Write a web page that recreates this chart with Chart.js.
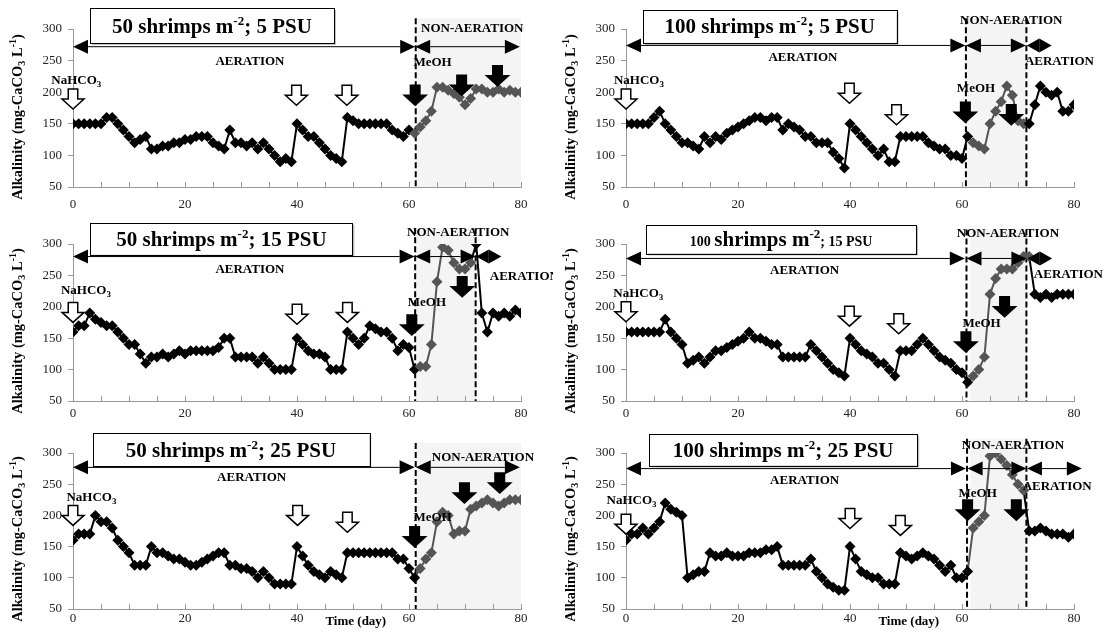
<!DOCTYPE html>
<html>
<head>
<meta charset="utf-8">
<script src="https://cdn.jsdelivr.net/npm/chart.js@4.4.0/dist/chart.umd.min.js"></script>
<style>
  body { margin: 0; background: #fff; width: 1106px; height: 634px; overflow: hidden; position: relative; }
  .panel { position: absolute; width: 553px; height: 210px; }
</style>
</head>
<body>
<div class="panel" style="left:0;top:0"><canvas id="c1" width="553" height="210"></canvas></div>
<div class="panel" style="left:553px;top:0"><canvas id="c2" width="553" height="210"></canvas></div>
<div class="panel" style="left:0;top:215px"><canvas id="c3" width="553" height="210"></canvas></div>
<div class="panel" style="left:553px;top:215px"><canvas id="c4" width="553" height="210"></canvas></div>
<div class="panel" style="left:0;top:424px"><canvas id="c5" width="553" height="210"></canvas></div>
<div class="panel" style="left:553px;top:424px"><canvas id="c6" width="553" height="210"></canvas></div>
<script>
'use strict'

//Data ---------------------------------------------------------
const days = Array.from({ length: 81 }, (_, i) => i);

const alk50psu5 = [
  150, 150, 150, 150, 150, 150, 160, 160, 150, 140,
  130, 120, 125, 130, 110, 110, 115, 115, 120, 120,
  125, 125, 130, 130, 130, 120, 115, 110, 140, 120,
  120, 115, 120, 110, 120, 110, 100, 90, 95, 90,
  150, 140, 130, 130, 120, 110, 100, 95, 90, 160,
  155, 150, 150, 150, 150, 150, 150, 140, 135, 130,
  140, 135, 145, 155, 170, 208, 208, 203, 198, 192,
  180, 190, 205, 205, 200, 200, 205, 200, 203, 200,
  200];

const alk100psu5 = [
  150, 150, 150, 150, 150, 160, 170, 150, 140, 130,
  120, 120, 115, 110, 130, 120, 130, 125, 135, 140,
  145, 150, 155, 160, 160, 155, 160, 160, 140, 150,
  145, 140, 130, 130, 120, 120, 120, 105, 95, 80,
  150, 140, 130, 120, 110, 100, 110, 90, 90, 130,
  130, 130, 130, 130, 120, 115, 110, 110, 100, 100,
  95, 130, 120, 115, 110, 150, 170, 185, 210, 195,
  155, 150, 150, 180, 210, 200, 195, 200, 170, 170,
  180];

const alk50psu15 = [
  160, 170, 170, 190, 180, 175, 170, 170, 160, 150,
  140, 140, 125, 110, 120, 120, 125, 120, 125, 130,
  125, 130, 130, 130, 130, 130, 135, 150, 150, 120,
  120, 120, 120, 110, 120, 110, 100, 100, 100, 100,
  150, 140, 130, 125, 125, 120, 100, 100, 100, 160,
  150, 140, 150, 170, 165, 160, 160, 150, 130, 140,
  135, 100, 105, 105, 140, 240, 295, 290, 270, 260,
  260, 270, 300, 190, 160, 190, 185, 190, 185, 195,
  190];

const alk100psu15 = [
  160, 160, 160, 160, 160, 160, 160, 180, 160, 150,
  140, 110, 115, 120, 110, 120, 130, 130, 135, 140,
  145, 150, 160, 150, 150, 145, 140, 140, 120, 120,
  120, 120, 120, 140, 130, 120, 110, 100, 95, 90,
  150, 140, 130, 125, 120, 110, 110, 100, 90, 130,
  130, 130, 140, 150, 140, 130, 120, 115, 110, 100,
  95, 80, 90, 100, 120, 220, 245, 260, 260, 260,
  270, 280, 280, 220, 215, 220, 215, 220, 220, 220,
  220];

const alk50psu25 = [
  160, 170, 170, 170, 200, 190, 190, 180, 160, 150,
  140, 120, 120, 120, 150, 140, 140, 135, 130, 130,
  125, 120, 120, 125, 130, 135, 140, 140, 120, 120,
  115, 115, 110, 100, 110, 100, 90, 90, 90, 90,
  150, 135, 120, 110, 105, 100, 110, 105, 100, 140,
  140, 140, 140, 140, 140, 140, 140, 140, 130, 130,
  115, 100, 115, 130, 140, 190, 205, 200, 170, 175,
  175, 210, 215, 220, 225, 220, 215, 220, 225, 225,
  225];

const alk100psu25 = [
  160, 170, 170, 180, 170, 180, 190, 220, 210, 205,
  200, 100, 105, 110, 110, 140, 135, 135, 140, 135,
  135, 135, 140, 140, 140, 145, 145, 150, 120, 120,
  120, 120, 120, 130, 110, 100, 90, 85, 80, 80,
  150, 130, 110, 105, 100, 100, 90, 90, 90, 140,
  135, 130, 135, 140, 135, 130, 120, 110, 120, 100,
  100, 110, 180, 190, 200, 295, 300, 290, 280, 265,
  250, 240, 175, 175, 180, 175, 170, 170, 170, 165,
  170];

const yTicks = [50, 100, 150, 200, 250, 300];
const xTicks = [0, 20, 40, 60, 80];

//Styles ---------------------------------------------------------
const FONT = "'Liberation Serif', 'Times New Roman', serif";
const GRAY = '#555555';
const AXIS = '#999999';
const BIG = 21;
const SUP = 13;

function font(size, bold) {
  return (bold ? 'bold ' : '') + size + 'px ' + FONT;
}

function titleParts(dens, psu, smallOuter) {
  const outer = smallOuter ? 14 : BIG;
  return [
    { text: dens + ' ', size: outer },
    { text: 'shrimps m', size: BIG },
    { text: '-2', size: SUP, shift: -8 },
    { text: '; ' + psu + ' PSU', size: outer }
  ];
}

//Panel layout ---------------------------------------------------------
const panels = [
  {
    id: 'c1', values: alk50psu5, grayFrom: 61, grayTo: 80, xH: 23, xPad: 2, yMid: 117,
    title: titleParts(50, 5), box: [3.0, 46.6, 333, 278],
    arrowY: 272, aer: [[0, 61.1]], non: [[61.1, 79.8]],
    texts: [['AERATION', 31.6, 248], ['NON-AERATION', 71.3, 300], ['MeOH', 64.2, 246]],
    nahco3: [0.6, 220],
    open: [[0, 205], [39.9, 211], [48.9, 211]],
    filled: [[61.1, 211], [69.4, 227], [75.8, 242]],
    shade: [61.2, 80, 317], dashed: [61.2]
  },
  {
    id: 'c2', values: alk100psu5, grayFrom: 62, grayTo: 71, xH: 23, xPad: 2, yMid: 117,
    title: titleParts(100, 5), box: [3.0, 48.3, 330, 278],
    arrowY: 274, aer: [[0, 60.6], [71.6, 76]], non: [[60.7, 71.4]],
    texts: [['AERATION', 31.6, 255], ['NON-AERATION', 68.8, 314], ['AERATION', 77.4, 248], ['MeOH', 62.5, 205]],
    nahco3: [2.3, 220],
    open: [[0, 205], [39.9, 214], [48.3, 180]],
    filled: [[60.6, 184], [68.8, 180]],
    shade: [60.9, 71.4, 317], dashed: [60.7, 71.5]
  },
  {
    id: 'c3', values: alk50psu15, grayFrom: 62, grayTo: 71, xH: 24, xPad: -3, yMid: 116,
    title: titleParts(50, 15), box: [3.1, 49.9, 334, 283],
    arrowY: 280, aer: [[0, 61], [72, 76.5]], non: [[61.1, 71.9]],
    texts: [['AERATION', 31.6, 259], ['NON-AERATION', 68.8, 318], ['AERATION', 80.6, 248], ['MeOH', 63.2, 207]],
    nahco3: [2.3, 227],
    open: [[0, 207], [40, 204], [49, 207]],
    filled: [[60.5, 187], [69.5, 248]],
    shade: [61.2, 72, 325], dashed: [61.1, 71.9]
  },
  {
    id: 'c4', values: alk100psu15, grayFrom: 62, grayTo: 72, xH: 24, xPad: -3, yMid: 116,
    title: titleParts(100, 15, true), box: [3.6, 51.8, 331, 285],
    arrowY: 277, aer: [[0, 60.5], [71.7, 76.1]], non: [[60.8, 71.5]],
    texts: [['AERATION', 31.9, 258], ['NON-AERATION', 68.2, 317], ['AERATION', 79, 252], ['MeOH', 63.5, 173]],
    nahco3: [2.2, 222],
    open: [[0, 208], [39.9, 201], [48.7, 189]],
    filled: [[60.7, 160], [67.6, 216]],
    shade: [61.5, 71.6, 323], dashed: [60.8, 71.5]
  },
  {
    id: 'c5', values: alk50psu25, grayFrom: 62, grayTo: 80, xH: 25, xPad: -6, yMid: 115, timeLabel: true,
    title: titleParts(50, 25), box: [3.5, 52.9, 332, 279],
    arrowY: 277, aer: [[0, 61]], non: [[61.2, 79.8]],
    texts: [['AERATION', 31.9, 260], ['NON-AERATION', 73.2, 293], ['MeOH', 64.2, 196]],
    nahco3: [3.3, 230],
    open: [[0, 216], [40.1, 216], [49, 205]],
    filled: [[61, 182], [69.9, 252], [76.2, 268]],
    shade: [61.4, 80, 316], dashed: [61.2]
  },
  {
    id: 'c6', values: alk100psu25, grayFrom: 62, grayTo: 71, xH: 25, xPad: -6, yMid: 115, timeLabel: true,
    title: titleParts(100, 25), box: [4.1, 52, 331, 280],
    arrowY: 275, aer: [[0, 60.7], [71.6, 81.4]], non: [[61, 71.5]],
    texts: [['AERATION', 31.9, 256], ['NON-AERATION', 69.1, 312], ['AERATION', 77, 246], ['MeOH', 62.8, 235]],
    nahco3: [1, 224.5],
    open: [[0, 202], [40, 211], [49, 200]],
    filled: [[61, 224.5], [69.7, 224.5]],
    shade: [61.5, 71.5, 323], dashed: [60.9, 71.5]
  }
];

//Drawing helpers ---------------------------------------------------------
function drawParts(ctx, parts, x, y, align) {
  let total = 0;
  parts.forEach(p => { ctx.font = font(p.size, true); total += ctx.measureText(p.text).width; });
  let cx = align === 'center' ? x - total / 2 : x;
  ctx.textAlign = 'left';
  ctx.textBaseline = 'alphabetic';
  parts.forEach(p => {
    ctx.font = font(p.size, true);
    ctx.fillText(p.text, cx, y + (p.shift || 0));
    cx += ctx.measureText(p.text).width;
  });
}

function blockArrow(ctx, cx, top, filled) {
  const w = 22, sw = 9.5, h = 20, hh = 10;
  ctx.beginPath();
  ctx.moveTo(cx - sw / 2, top);
  ctx.lineTo(cx + sw / 2, top);
  ctx.lineTo(cx + sw / 2, top + h - hh);
  ctx.lineTo(cx + w / 2, top + h - hh);
  ctx.lineTo(cx, top + h);
  ctx.lineTo(cx - w / 2, top + h - hh);
  ctx.lineTo(cx - sw / 2, top + h - hh);
  ctx.closePath();
  ctx.fillStyle = filled ? '#000' : '#fff';
  ctx.fill();
  ctx.lineWidth = 1.5;
  ctx.strokeStyle = '#000';
  ctx.stroke();
}

function doubleArrow(ctx, x1, x2, y) {
  const aw = Math.min(15, (x2 - x1) / 2), ah = 7;
  ctx.strokeStyle = '#000';
  ctx.lineWidth = 1;
  ctx.beginPath();
  ctx.moveTo(x1 + aw, y);
  ctx.lineTo(x2 - aw, y);
  ctx.stroke();
  ctx.fillStyle = '#000';
  ctx.beginPath();
  ctx.moveTo(x1, y); ctx.lineTo(x1 + aw, y - ah); ctx.lineTo(x1 + aw, y + ah);
  ctx.fill();
  ctx.beginPath();
  ctx.moveTo(x2, y); ctx.lineTo(x2 - aw, y - ah); ctx.lineTo(x2 - aw, y + ah);
  ctx.fill();
}

function decoPlugin(p) {
  return {
    id: 'deco',
    beforeDatasetsDraw(chart) {
      const ctx = chart.ctx, xs = chart.scales.x, ys = chart.scales.y, area = chart.chartArea;
      ctx.save();
      const sx1 = xs.getPixelForValue(p.shade[0]), sx2 = xs.getPixelForValue(p.shade[1]);
      const sTop = ys.getPixelForValue(p.shade[2]);
      ctx.fillStyle = '#f4f4f4';
      ctx.fillRect(sx1, sTop, sx2 - sx1, area.bottom - sTop);
      ctx.strokeStyle = '#000';
      ctx.lineWidth = 2;
      ctx.setLineDash([6, 3]);
      p.dashed.forEach(d => {
        const x = xs.getPixelForValue(d);
        ctx.beginPath();
        ctx.moveTo(x, sTop);
        ctx.lineTo(x, area.bottom);
        ctx.stroke();
      });
      ctx.setLineDash([]);
      // inner tick marks on x axis
      ctx.strokeStyle = AXIS;
      ctx.lineWidth = 1;
      for (let d = 5; d <= 80; d += 5) {
        const x = Math.round(xs.getPixelForValue(d)) + 0.5;
        ctx.beginPath();
        ctx.moveTo(x, area.bottom);
        ctx.lineTo(x, area.bottom - 5);
        ctx.stroke();
      }
      ctx.restore();
    },
    afterDatasetsDraw(chart) {
      const ctx = chart.ctx, xs = chart.scales.x, ys = chart.scales.y, area = chart.chartArea;
      const px = d => xs.getPixelForValue(d);
      const py = v => ys.getPixelForValue(v);
      ctx.save();

      // title box
      const bx1 = px(p.box[0]), bx2 = px(p.box[1]), by1 = py(p.box[2]), by2 = py(p.box[3]);
      ctx.fillStyle = '#bdbdbd';
      ctx.fillRect(bx1 + 2, by1 + 2, bx2 - bx1, by2 - by1);
      ctx.fillStyle = '#fff';
      ctx.fillRect(bx1, by1, bx2 - bx1, by2 - by1);
      ctx.strokeStyle = '#000';
      ctx.lineWidth = 1;
      ctx.strokeRect(Math.round(bx1) + 0.5, Math.round(by1) + 0.5, Math.round(bx2 - bx1), Math.round(by2 - by1));
      ctx.fillStyle = '#000';
      drawParts(ctx, p.title, (bx1 + bx2) / 2, (by1 + by2) / 2 + 7, 'center');

      // aeration arrows
      p.aer.concat(p.non).forEach(s => doubleArrow(ctx, px(s[0]), px(s[1]), py(p.arrowY)));

      // labels
      ctx.fillStyle = '#000';
      ctx.font = font(13, true);
      ctx.textAlign = 'center';
      ctx.textBaseline = 'middle';
      p.texts.forEach(t => ctx.fillText(t[0], px(t[1]), py(t[2])));
      drawParts(ctx, [{ text: 'NaHCO', size: 13 }, { text: '3', size: 9, shift: 3 }],
        px(p.nahco3[0]), py(p.nahco3[1]) + 4, 'center');

      p.open.forEach(a => blockArrow(ctx, px(a[0]), py(a[1]), false));
      p.filled.forEach(a => blockArrow(ctx, px(a[0]), py(a[1]), true));

      // y axis title
      ctx.save();
      ctx.translate(22, p.yMid);
      ctx.rotate(-Math.PI / 2);
      ctx.fillStyle = '#000';
      drawParts(ctx, [
        { text: 'Alkalinity (mg-CaCO', size: 14.5 },
        { text: '3', size: 10, shift: 3 },
        { text: ' L', size: 14.5 },
        { text: '-1', size: 10, shift: -6 },
        { text: ')', size: 14.5 }
      ], 0, 0, 'center');
      ctx.restore();

      if (p.timeLabel) {
        ctx.font = font(13, true);
        ctx.textAlign = 'center';
        ctx.textBaseline = 'middle';
        ctx.fillText('Time (day)', px(50.5), area.bottom + 13);
      }
      ctx.restore();
    }
  };
}

//Charts ---------------------------------------------------------
function makeChart(p) {
  const isGray = x => x >= p.grayFrom && x <= p.grayTo;
  const pointColor = c => (c.raw && isGray(c.raw.x)) ? GRAY : '#000';
  new Chart(document.getElementById(p.id), {
    type: 'line',
    data: {
      datasets: [{
        data: days.map((d, i) => ({ x: d, y: p.values[i] })),
        borderColor: '#000',
        borderWidth: 2,
        pointStyle: 'rectRot',
        pointRadius: 5.5,
        pointBackgroundColor: pointColor,
        pointBorderColor: pointColor,
        pointBorderWidth: 0,
        tension: 0,
        segment: { borderColor: c => isGray(c.p1.parsed.x) ? GRAY : '#000' }
      }]
    },
    options: {
      responsive: false,
      animation: false,
      layout: { padding: { left: 0, right: 32, top: 29, bottom: 0 } },
      plugins: { legend: { display: false }, tooltip: { enabled: false } },
      scales: {
        x: {
          type: 'linear', min: 0, max: 80,
          afterFit: s => { s.height = p.xH; },
          afterBuildTicks: s => { s.ticks = xTicks.map(v => ({ value: v })); },
          ticks: { padding: p.xPad, font: { family: FONT, size: 13 }, color: '#222' },
          grid: { display: false },
          border: { color: AXIS }
        },
        y: {
          min: 50, max: 300,
          afterFit: s => { s.width = 73; },
          afterBuildTicks: s => { s.ticks = yTicks.map(v => ({ value: v })); },
          ticks: { padding: 6, font: { family: FONT, size: 13 }, color: '#222' },
          grid: { drawOnChartArea: false, tickLength: 5, color: AXIS },
          border: { color: AXIS }
        }
      }
    },
    plugins: [decoPlugin(p)]
  });
}

panels.forEach(makeChart);
</script>
</body>
</html>
